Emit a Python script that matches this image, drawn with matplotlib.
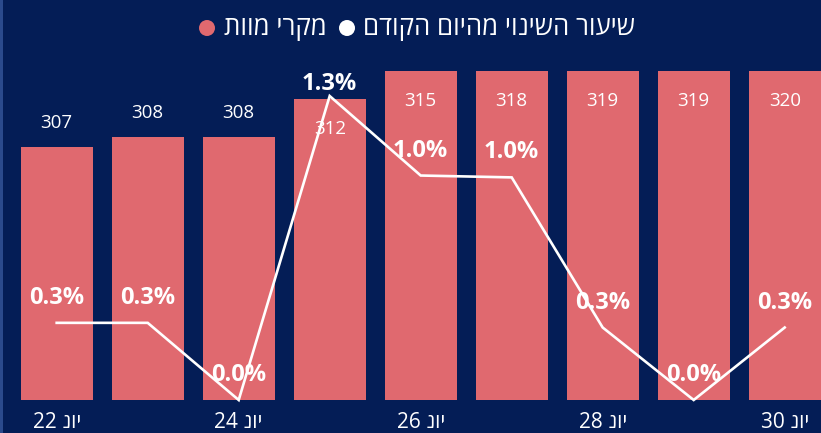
import matplotlib
matplotlib.use('Agg')
import matplotlib.pyplot as plt
from matplotlib.patches import Circle, Rectangle

# ---- data ----
days = [22, 23, 24, 25, 26, 27, 28, 29, 30]
month = 'יונ'
deaths = [307, 308, 308, 312, 315, 318, 319, 319, 320]
change_pct = [0.33, 0.33, 0.0, 1.30, 0.96, 0.952, 0.31, 0.0, 0.31]
tick_days = [22, 24, 26, 28, 30]
legend_deaths = 'מקרי מוות'
legend_change = 'שיעור השינוי מהיום הקודם'

BG = '#041D56'
BAR = '#E0696F'
FONT = ['Open Sans', 'DejaVu Sans']

def vis(s):
    # visual (left-to-right) order for right-to-left Hebrew text
    return s[::-1]

W, H, DPI = 821, 433, 100
fig = plt.figure(figsize=(W / DPI, H / DPI), dpi=DPI, facecolor=BG)
fig.add_artist(Rectangle((0, 0), 3 / W, 1, transform=fig.transFigure,
                         facecolor='#2B4A8C', edgecolor='none'))

ax_bottom, ax_top = 400, 71
ax = fig.add_axes([0, (H - ax_bottom) / H, 1, (ax_bottom - ax_top) / H])
ax.set_facecolor(BG)
x = list(range(len(days)))
ax.bar(x, deaths, width=0.79, color=BAR, zorder=2)
ax.set_xlim(-0.623, 8.399)
ax.set_ylim(280.65, 314.92)
for s in ax.spines.values():
    s.set_visible(False)
ax.set_yticks([])
ax.set_xticks([days.index(d) for d in tick_days])
ax.set_xticklabels([f'{d} {vis(month)}' for d in tick_days],
                   color='white', fontsize=15, family=FONT)
ax.tick_params(axis='x', length=0, pad=9)

y0, y1 = ax.get_ylim()
ppu = (ax_bottom - ax_top) / (y1 - y0)
for xi, v in zip(x, deaths):
    above = v + 24 / ppu
    if above + 8 / ppu > y1:
        ypos = min(v, y1) - 30 / ppu
    else:
        ypos = above
    ax.text(xi, ypos, str(v), ha='center', va='center', color='white',
            fontsize=13.5, family=FONT, zorder=3)

ax2 = ax.twinx()
ax2.set_ylim(0, 1.407)
ax2.set_xlim(ax.get_xlim())
ax2.axis('off')
ax2.plot(x, change_pct, color='white', lw=1.9, clip_on=False, zorder=4,
         solid_joinstyle='miter')
z0, z1 = ax2.get_ylim()
ppu2 = (ax_bottom - ax_top) / (z1 - z0)
for xi, v in zip(x, change_pct):
    ypos = min(v + 25 / ppu2, z1 - 13 / ppu2)
    ax2.text(xi, ypos, f'{v:.1f}%', ha='center', va='center', color='white',
             fontsize=17, fontweight='bold', family=FONT, zorder=5)

# legend
ly = (H - 28.5) / H
fig.add_artist(Circle((207 / DPI, (H - 28) / DPI), 0.08, transform=fig.dpi_scale_trans,
                      facecolor=BAR, edgecolor='none'))
fig.text(327 / W, ly, vis(legend_deaths), ha='right', va='center', color='white',
         fontsize=18.5, family=FONT)
fig.add_artist(Circle((347 / DPI, (H - 28) / DPI), 0.08, transform=fig.dpi_scale_trans,
                      facecolor='white', edgecolor='none'))
fig.text(635 / W, ly, vis(legend_change), ha='right', va='center', color='white',
         fontsize=18.5, family=FONT)

fig.savefig('out.png', dpi=DPI, facecolor=BG)
